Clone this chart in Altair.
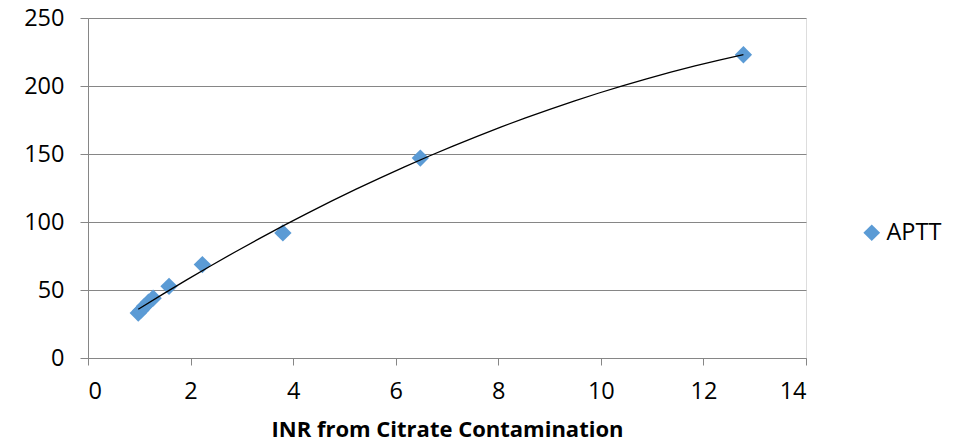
import altair as alt
import pandas as pd

inr = [0.98, 1.03, 1.10, 1.18, 1.27, 1.58, 2.23, 3.80, 6.48, 12.78]
aptt = [33, 35, 38, 41, 44, 52.7, 68.7, 92, 147, 223]
series = ["APTT"] * len(inr)

df = pd.DataFrame({"inr": inr, "aptt": aptt, "series": series})

FONT = "Open Sans"
GRID = "#868686"

base = alt.Chart(df)

x_enc = alt.X("inr:Q", scale=alt.Scale(domain=[0, 14], nice=False),
              axis=alt.Axis(title="INR from Citrate Contamination", values=[0, 2, 4, 6, 8, 10, 12, 14],
                            grid=False, domainColor=GRID, tickColor=GRID, tickSize=7,
                            labelFontSize=23.5, labelFont=FONT, labelColor="black", labelPadding=14,
                            titleFontSize=22, titleFont=FONT, titleFontWeight="bold", titleColor="black",
                            titlePadding=17))
y_enc = alt.Y("aptt:Q", scale=alt.Scale(domain=[0, 250], nice=False),
              axis=alt.Axis(title=None, values=[0, 50, 100, 150, 200, 250],
                            grid=True, gridColor=GRID, gridWidth=1, domainColor=GRID, tickColor=GRID,
                            tickSize=8, labelFontSize=23.5, labelFont=FONT, labelColor="black",
                            labelPadding=16))

points = base.mark_point(filled=True, shape="diamond", size=300, opacity=1).encode(
    x=x_enc, y=y_enc,
    color=alt.Color("series:N", scale=alt.Scale(range=["#5B9BD5"]),
                    legend=alt.Legend(title=None, orient="none", legendX=772, legendY=203,
                                      labelFontSize=23.5, labelFont=FONT, labelColor="black",
                                      symbolSize=280, symbolType="diamond", symbolStrokeWidth=0,
                                      padding=0, labelOffset=3)),
)

trend = base.transform_regression("inr", "aptt", method="poly", order=2).mark_line(
    color="black", strokeWidth=1.3).encode(x="inr:Q", y="aptt:Q")

chart = alt.layer(points, trend).properties(
    width=718, height=340,
    autosize=alt.AutoSizeParams(type="none"),
    padding={"left": 80, "top": 10, "right": 140, "bottom": 88},
).configure_view(stroke=None).configure(background="white")

chart.save("out.html", embed_options={"renderer": "svg", "actions": False})
